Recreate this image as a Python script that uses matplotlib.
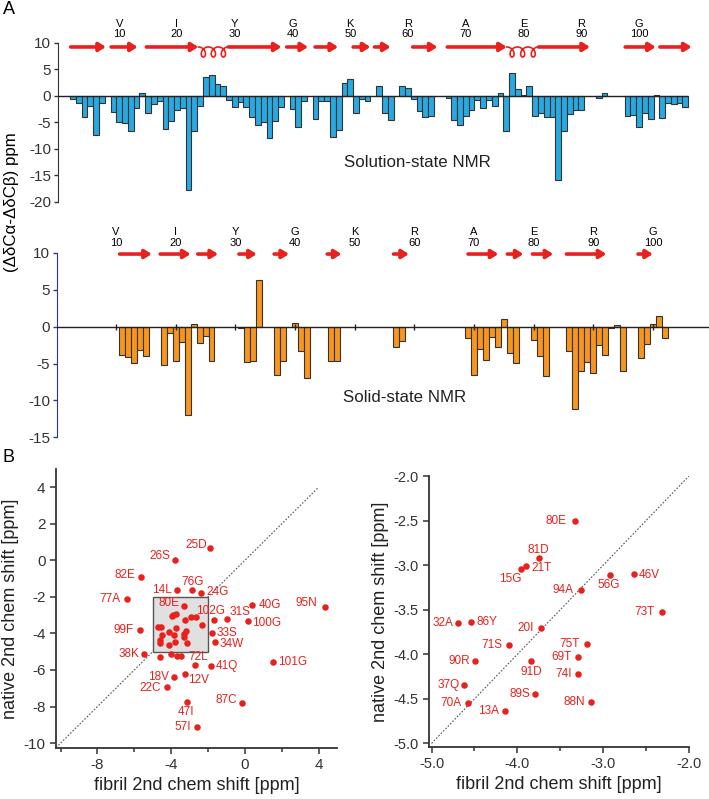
import numpy as np
import matplotlib
matplotlib.use('Agg')
import matplotlib.pyplot as plt
from matplotlib.ticker import FormatStrFormatter, MultipleLocator

plt.rcParams['font.family'] = ['Liberation Sans', 'DejaVu Sans']
plt.rcParams['axes.unicode_minus'] = False

# ---- panel A data ----
sol_res = [2, 3, 4, 5, 6, 7, 9, 10, 11, 12, 13, 14, 15, 16, 17, 18, 19, 20, 21, 22, 23, 24,
           25, 26, 27, 28, 29, 30, 31, 32, 33, 34, 35, 36, 37, 38, 40, 41, 42, 44, 45, 46,
           47, 48, 49, 50, 51, 52, 53, 55, 56, 57, 59, 60, 61, 62, 63, 64, 67, 68, 69, 70,
           71, 72, 73, 74, 75, 76, 77, 78, 79, 80, 81, 82, 83, 84, 85, 86, 87, 88, 89, 90,
           93, 94, 98, 99, 100, 101, 102, 103, 104, 105, 106, 107, 108]
sol_val = [-0.5, -1.4, -3.9, -1.9, -7.4, -1.4, -3.1, -4.9, -5.1, -6.6, -2.3, 0.6, -3.2, -1.5,
           -1.0, -6.3, -4.8, -2.6, -2.3, -17.8, -6.6, -1.9, 3.5, 3.9, 2.2, 1.8, -0.8, -2.1,
           -1.2, -2.1, -4.0, -5.5, -5.0, -8.0, -4.8, -2.1, -2.4, -5.8, -0.9, -4.4, -1.0, -0.9,
           -7.8, -6.4, 2.4, 3.2, -3.3, -0.5, -1.0, 1.9, -3.2, -4.5, 1.8, 1.6, -0.6, -2.8,
           -3.9, -3.8, -0.4, -4.5, -5.5, -3.8, -2.6, -0.8, -2.2, -0.8, -1.8, 0.5, -6.6, 4.3,
           1.4, 0.2, 1.9, -3.8, -3.3, -3.9, -3.9, -15.8, -6.6, -3.4, -2.6, -2.6, -0.4, 0.5,
           -3.8, -3.6, -5.8, -3.3, -4.3, 0.1, -4.2, -1.3, -1.6, -1.3, -2.1]

ssn_res = [11, 12, 13, 14, 15, 18, 19, 20, 21, 22, 23, 24, 25, 26, 31, 32, 33, 34, 37, 38,
           40, 41, 42, 46, 47, 57, 58, 69, 70, 71, 72, 73, 74, 75, 76, 77, 80, 81, 82, 86,
           87, 88, 89, 90, 91, 92, 93, 94, 95, 98, 99, 100, 101, 102]
ssn_val = [-3.9, -4.1, -4.9, -3.1, -4.0, -5.2, -0.8, -4.7, -2.1, -12.0, 0.4, -2.2, -1.3, -4.6,
           -0.2, -4.8, -4.6, 6.3, -6.6, -4.7, 0.5, -3.3, -7.0, -4.6, -4.7, -2.7, -2.0, -1.6,
           -6.5, -3.0, -4.5, -1.4, -2.7, 1.1, -3.5, -4.9, -1.8, -4.0, -6.7, -3.3, -11.2, -6.0,
           -4.8, -6.3, -2.5, -3.9, -0.2, 0.2, -6.0, -4.3, -2.3, 0.3, 1.5, -1.6]

# beta strands (start, end residue) and helices
sol_strands = [(1.6, 7.7), (8.6, 13.2), (14.7, 23.7), (28.9, 38.1), (39.0, 42.7), (43.9, 47.9),
               (50.5, 53.5), (54.2, 57.0), (60.8, 65.1), (66.8, 77.1), (82.6, 91.5),
               (97.6, 102.9), (103.6, 109.1)]
sol_helices = [(23.7, 28.9), (77.1, 82.6)]
ssn_strands = [(10.6, 16.0), (17.4, 22.5), (23.7, 27.1), (30.6, 33.6), (36.5, 39.0),
               (45.4, 47.8), (56.5, 59.1), (69.0, 74.1), (75.6, 78.3), (79.8, 83.3),
               (85.5, 92.2), (97.5, 100.0)]

mark_res = [10, 20, 30, 40, 50, 60, 70, 80, 90, 100]
mark_aa = ['V', 'I', 'Y', 'G', 'K', 'R', 'A', 'E', 'R', 'G']

# ---- panel B data ----
out_lab = ['25D', '26S', '82E', '77A', '14L', '76G', '24G', '40G', '95N', '102G', '31S', '100G',
           '99F', '33S', '34W', '38K', '72L', '41Q', '101G', '18V', '12V', '22C', '87C', '47I', '57I']
out_fib = [-1.91, -3.80, -5.62, -6.41, -3.71, -2.86, -2.38, 0.40, 4.36, -1.68, -0.95, 0.16,
           -5.69, -1.80, -1.64, -5.48, -2.68, -1.86, 1.51, -3.86, -3.26, -4.22, -0.16, -3.12, -2.59]
out_nat = [0.67, 0.0, -0.91, -2.11, -1.60, -1.62, -1.76, -2.42, -2.53, -3.29, -3.20, -3.31,
           -3.82, -3.95, -4.49, -5.11, -5.75, -5.76, -5.58, -6.40, -6.24, -6.93, -7.78, -7.75, -9.11]
extra_fib = [-4.58, -4.02, -3.69, -3.44]
extra_nat = [-5.29, -5.15, -5.22, -5.22]

box_lab = ['80E', '81D', '21T', '15G', '94A', '56G', '46V', '73T', '32A', '86Y', '20I',
           '71S', '90R', '75T', '69T', '91D', '74I', '37Q', '89S', '70A', '88N', '13A']
box_fib = [-3.33, -3.75, -3.90, -3.96, -3.26, -2.92, -2.64, -2.32, -4.69, -4.54, -3.73,
           -4.10, -4.49, -3.19, -3.29, -3.84, -3.29, -4.62, -3.79, -4.58, -3.14, -4.14]
box_nat = [-2.51, -2.92, -3.01, -3.04, -3.28, -3.11, -3.10, -3.53, -3.65, -3.64, -3.71,
           -3.90, -4.08, -3.89, -4.03, -4.07, -4.22, -4.35, -4.45, -4.55, -4.53, -4.64]

# label placement (offset in pixels, alignment)
left_off = {'25D': (-3, 3, 'right'), '26S': (-5, 4, 'right'), '82E': (-6, 2, 'right'),
            '77A': (-6, 0, 'right'), '14L': (-5, 0, 'right'), '76G': (0, 8, 'center'),
            '24G': (5, 1, 'left'), '80E': (-4, 3, 'right'), '40G': (6, 0, 'left'),
            '95N': (-8, 4, 'right'), '102G': (-3, 9, 'center'), '31S': (2, 7, 'left'),
            '100G': (4, -2, 'left'), '99F': (-6, 0, 'right'), '33S': (5, 0, 'left'),
            '34W': (5, -2, 'left'), '38K': (-4, 0, 'right'), '72L': (3, 8, 'center'),
            '41Q': (5, 0, 'left'), '101G': (5, 0, 'left'), '18V': (-5, 0, 'right'),
            '12V': (3, -6, 'left'), '22C': (-6, -1, 'right'), '87C': (-5, 3, 'right'),
            '47I': (-1, -10, 'center'), '57I': (-6, 0, 'right')}
right_off = {'80E': (-8, 0, 'right'), '81D': (-1, 8, 'center'), '21T': (5, -2, 'left'),
             '15G': (1, -10, 'right'), '94A': (-7, 0, 'right'), '56G': (-1, -10, 'center'),
             '46V': (5, -1, 'left'), '73T': (-7, 0, 'right'), '32A': (-5, 0, 'right'),
             '86Y': (5, 0, 'left'), '20I': (-7, 0, 'right'), '71S': (-6, 0, 'right'),
             '90R': (-5, 0, 'right'), '75T': (-7, 0, 'right'), '69T': (-7, 0, 'right'),
             '91D': (0, -11, 'center'), '74I': (-6, 0, 'right'), '37Q': (-5, 0, 'right'),
             '89S': (-5, 0, 'right'), '70A': (-6, 0, 'right'), '88N': (-6, 0, 'right'),
             '13A': (-6, 0, 'right')}

RED = '#e8211d'
BLUE = '#29a9e1'
ORANGE = '#f7961e'
W, H = 709, 799


def rect(x0, y0, x1, y1):
    return [x0 / W, 1 - y1 / H, (x1 - x0) / W, (y1 - y0) / H]


def draw_strands(ax, strands, y):
    for a, b in strands:
        ax.annotate('', xy=(b, y), xytext=(a, y),
                    arrowprops=dict(arrowstyle='-|>,head_length=0.4,head_width=0.25',
                                    color=RED, lw=2.6, shrinkA=0, shrinkB=0,
                                    mutation_scale=10), annotation_clip=False)


def draw_helix(ax, a, b, y, depth):
    # three small loops hanging below the strand line
    t = np.linspace(0, 6 * np.pi, 400)
    k = (b - a) / (6 * np.pi)
    ax.plot(a + k * t + 0.75 * np.sin(t), y - depth * (1 - np.cos(t)) / 2,
            color=RED, lw=1.2, clip_on=False)


def bar_axes(ax, res, val, color, ticks):
    ax.bar(res, val, width=1.0, color=color, edgecolor='#333333', linewidth=0.8, zorder=2)
    for s in ['top', 'right', 'bottom']:
        ax.spines[s].set_visible(False)
    ax.set_xticks([])
    ax.set_yticks(ticks)
    ax.tick_params(axis='y', direction='out', length=3, width=1, labelsize=11,
                   colors='#333333', pad=2)


fig = plt.figure(figsize=(7.09, 7.99), dpi=100)

# ---- solution-state ----
ax1 = fig.add_axes(rect(58, 43, 700, 203))
bar_axes(ax1, sol_res, sol_val, BLUE, [10, 5, 0, -5, -10, -15, -20])
ax1.set_xlim(-0.6, 110.55)
ax1.set_ylim(-20.2, 10)
ax1.spines['left'].set_color('#333333')
ax1.spines['left'].set_bounds(-20, 10)
ax1.hlines(0, -0.6, 108.5, color='#222222', lw=1, zorder=3)
draw_strands(ax1, sol_strands, 9.25)
for a, b in sol_helices:
    draw_helix(ax1, a, b, 9.25, 1.9)
for r, aa in zip(mark_res, mark_aa):
    ax1.text(r, 13.6, aa, ha='center', va='center', fontsize=8, clip_on=False)
    ax1.text(r, 11.7, str(r), ha='center', va='center', fontsize=8, clip_on=False)
ax1.text(49, -12.5, 'Solution-state NMR', fontsize=12.2, va='center', ha='left', color='#222222')

# ---- solid-state ----
ax2 = fig.add_axes(rect(57, 253, 709, 438))
bar_axes(ax2, ssn_res, ssn_val, ORANGE, [10, 5, 0, -5, -10, -15])
ax2.set_xlim(0.1, 109.4)
ax2.set_ylim(-15.1, 10)
ax2.spines['left'].set_color('#2b3990')
ax2.spines['left'].set_bounds(-15, 10)
ax2.tick_params(axis='y', color='#2b3990')
ax2.axhline(0, color='#222222', lw=1, zorder=3)
ax2.plot(mark_res, [0] * len(mark_res), ls='none', marker='|', ms=5, mew=1,
         color='#222222', zorder=3)
draw_strands(ax2, ssn_strands, 9.86)
for r, aa in zip(mark_res, mark_aa):
    ax2.text(r, 12.9, aa, ha='center', va='center', fontsize=8, clip_on=False)
    ax2.text(r, 11.4, str(r), ha='center', va='center', fontsize=8, clip_on=False)
ax2.text(48, -9.6, 'Solid-state NMR', fontsize=12.2, va='center', ha='left', color='#222222')

fig.text(12 / W, 1 - 202 / H, '(ΔδCα-ΔδCβ) ppm', rotation=90, ha='center', va='center',
         fontsize=12.2)
fig.text(3 / W, 1 - 10 / H, 'A', fontsize=13, ha='left', va='center')
fig.text(2 / W, 1 - 458 / H, 'B', fontsize=13, ha='left', va='center')


def scatter_axes(ax):
    for s in ['top', 'right']:
        ax.spines[s].set_visible(False)
    for s in ['left', 'bottom']:
        ax.spines[s].set_color('#333333')
        ax.spines[s].set_linewidth(1.3)
    ax.tick_params(which='both', direction='out', colors='#333333', width=1.1)
    ax.tick_params(which='major', length=4)
    ax.tick_params(which='minor', length=3)
    ax.set_xlabel('fibril 2nd chem shift [ppm]', fontsize=13, color='#222222', labelpad=3)
    ax.set_ylabel('native 2nd chem shift [ppm]', fontsize=13, color='#222222', labelpad=3)


def put_labels(ax, labs, xs, ys, offs):
    for lab, x, y in zip(labs, xs, ys):
        dx, dy, ha = offs[lab]
        ax.annotate(lab, (x, y), xytext=(dx, dy), textcoords='offset pixels',
                    ha=ha, va='center', fontsize=8.5, color=RED)


# ---- left scatter ----
ax3 = fig.add_axes(rect(56, 469, 337, 748))
scatter_axes(ax3)
ax3.set_xlim(-10.25, 5)
ax3.set_ylim(-10.27, 5)
ax3.plot([-10.25, 4], [-10.25, 4], ls=(0, (1.5, 1.5)), color='#555555', lw=0.8, zorder=1)
ax3.add_patch(plt.Rectangle((-5, -5), 3, 3, facecolor='#e0e0e0', edgecolor='#555555',
                            lw=1, zorder=1))
ax3.scatter(out_fib, out_nat, s=22, color=RED, zorder=3, linewidths=0)
ax3.scatter(extra_fib, extra_nat, s=22, color=RED, zorder=3, linewidths=0)
ax3.scatter(box_fib, box_nat, s=22, color=RED, zorder=3, linewidths=0)
put_labels(ax3, out_lab, out_fib, out_nat, left_off)
put_labels(ax3, box_lab[:1], box_fib[:1], box_nat[:1], left_off)
ax3.set_xticks([-8, -4, 0, 4])
ax3.xaxis.set_minor_locator(MultipleLocator(2))
ax3.set_yticks([4, 2, 0, -2, -4, -6, -8, -10])
ax3.tick_params(labelsize=11)

# ---- right scatter ----
ax4 = fig.add_axes(rect(429, 476, 689, 747))
scatter_axes(ax4)
ax4.set_xlim(-5.03, -2.0)
ax4.set_ylim(-5.04, -2.0)
ax4.plot([-5, -2], [-5, -2], ls=(0, (1.5, 1.5)), color='#555555', lw=0.8, zorder=1)
ax4.scatter(box_fib, box_nat, s=22, color=RED, zorder=3, linewidths=0)
put_labels(ax4, box_lab, box_fib, box_nat, right_off)
ax4.set_xticks([-5, -4, -3, -2])
ax4.xaxis.set_minor_locator(MultipleLocator(0.5))
ax4.set_yticks(np.arange(-5, -1.9, 0.5))
ax4.xaxis.set_major_formatter(FormatStrFormatter('%.1f'))
ax4.yaxis.set_major_formatter(FormatStrFormatter('%.1f'))
ax4.tick_params(labelsize=10.5)

fig.savefig('out.png', dpi=100)
